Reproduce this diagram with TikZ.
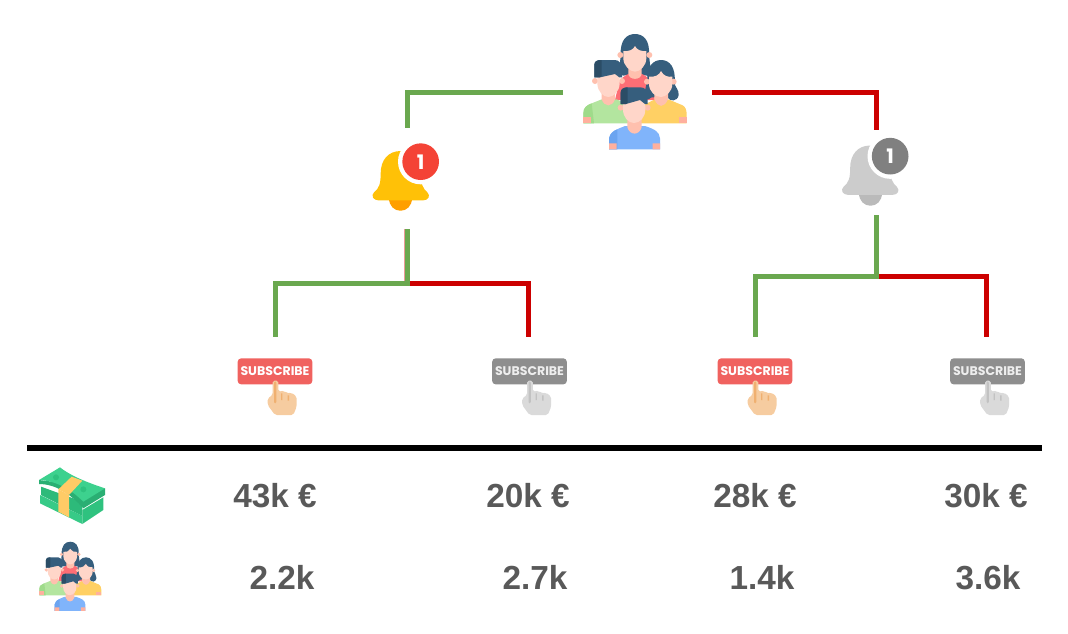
\documentclass[tikz,border=0pt]{standalone}
\usepackage{fontspec}
\setmainfont{Liberation Sans}
\newfontfamily\badgefont{Poppins}[UprightFont=*-Bold]
\definecolor{gline}{HTML}{6AA84F}
\definecolor{rline}{HTML}{CC0000}
\definecolor{valtext}{HTML}{595959}
\definecolor{hairA}{HTML}{365E7D}
\definecolor{hairB}{HTML}{2B4D66}
\definecolor{skinA}{HTML}{FFD6C9}
\definecolor{skinB}{HTML}{FFC0AE}
\definecolor{shirtP}{HTML}{FD6E75}
\definecolor{shirtG}{HTML}{B3E59F}
\definecolor{shirtGd}{HTML}{9FDB8A}
\definecolor{shirtY}{HTML}{FFD064}
\definecolor{shirtB}{HTML}{80B4FB}
\definecolor{shirtBd}{HTML}{6BA4F0}
\definecolor{cuff}{HTML}{FFB09E}
\definecolor{mA}{HTML}{2FC27F}
\definecolor{mB}{HTML}{3DD18E}
\definecolor{mC}{HTML}{2AAF73}
\definecolor{band}{HTML}{FFCB66}
\definecolor{bellbody}{HTML}{FFC107}
\definecolor{bellclap}{HTML}{FF9F00}
\definecolor{badgered}{HTML}{F44336}
\definecolor{bellgrey}{HTML}{CCCCCC}
\definecolor{bellgreyd}{HTML}{BABABA}
\definecolor{badgegrey}{HTML}{808080}
\definecolor{btnred}{HTML}{F0625F}
\definecolor{btngrey}{HTML}{8E8E8E}
\definecolor{btntext}{HTML}{EEEEEE}
\definecolor{handskin}{HTML}{F6CCA0}
\definecolor{handshade}{HTML}{F0B070}
\definecolor{handgrey}{HTML}{DADADA}
\definecolor{handgreyd}{HTML}{C2C2C2}
\tikzset{
  link/.style={line width=3.75pt,line join=miter},
  glink/.style={link,draw=gline},
  rlink/.style={link,draw=rline},
  slot/.style={inner sep=0pt,outer sep=0pt,draw=none},
  amount/.style={font=\fontsize{25}{30}\selectfont\bfseries,text=valtext,inner sep=0pt,anchor=base},
  icon/.style={line join=round}
}
\newcommand{\drawpeople}[3]{% origin x, origin y, unit in pt
\begin{scope}[shift={(#1,#2)},x=#3,y=-#3,icon]
 % back woman
 \fill[hairA] (182,105) .. controls (180,60) and (200,42) .. (225,42) .. controls (250,42) and (270,60) .. (267,105) -- (272,150) .. controls (274,165) and (262,170) .. (250,165) -- (200,165) .. controls (188,170) and (174,165) .. (178,150) -- cycle;
 \fill[shirtP] (165,240) -- (178,185) .. controls (190,165) and (210,158) .. (225,158) .. controls (240,158) and (262,165) .. (272,185) -- (285,240) -- cycle;
 \fill[skinB] (205,130) -- (245,130) -- (245,160) .. controls (245,182) and (205,182) .. (205,160) -- cycle;
 \fill[skinB] (181,105) circle (9) (268,105) circle (9);
 \fill[skinA] (190,93) .. controls (205,95) and (220,90) .. (225,78) .. controls (230,90) and (245,95) .. (259,93) -- (259,115) .. controls (259,137) and (240,155) .. (225,155) .. controls (210,155) and (190,137) .. (190,115) -- cycle;
 % right woman
 \fill[hairA] (262,180) .. controls (258,140) and (280,120) .. (303,120) .. controls (328,120) and (348,140) .. (344,190) .. controls (344,200) and (358,210) .. (356,225) .. controls (352,246) and (330,245) .. (322,232) -- (275,232) .. controls (262,245) and (250,235) .. (252,225) -- cycle;
 \fill[shirtY] (240,310) -- (240,260) -- (285,238) -- (325,238) -- (368,256) .. controls (376,260) and (380,270) .. (380,282) -- (380,310) -- cycle;
 \fill[skinB] (283,215) -- (324,215) -- (324,238) .. controls (312,264) and (295,264) .. (283,238) -- cycle;
 \fill[skinB] (341,185) circle (9) (261,185) circle (9);
 \fill[cuff] (356,292) rectangle (380,310);
 \fill[skinA] (267,170) .. controls (285,172) and (298,165) .. (303,153) .. controls (310,168) and (325,172) .. (337,170) -- (337,192) .. controls (337,214) and (318,231) .. (303,231) .. controls (285,231) and (267,214) .. (267,192) -- cycle;
 % left man
 \fill[shirtG] (70,310) -- (70,280) .. controls (70,262) and (80,256) .. (95,250) -- (125,238) -- (170,238) -- (205,255) -- (205,310) -- cycle;
 \fill[shirtGd] (70,310) -- (70,280) .. controls (70,262) and (80,256) .. (95,250) -- (102,310) -- cycle;
 \fill[skinB] (125,210) -- (165,210) -- (165,238) .. controls (157,262) and (133,262) .. (125,238) -- cycle;
 \fill[cuff] (70,290) rectangle (93,310);
 \fill[skinB] (105,183) circle (9) (186,183) circle (9);
 \fill[skinA] (112,160) -- (179,160) -- (179,190) .. controls (179,214) and (160,231) .. (145,231) .. controls (130,231) and (112,214) .. (112,190) -- cycle;
 \fill[hairA] (103,172) -- (103,135) .. controls (103,125) and (110,120) .. (120,120) -- (165,120) .. controls (178,120) and (186,132) .. (186,150) -- (186,172) -- (178,172) -- (165,162) -- (120,172) -- cycle;
 \fill[hairB] (103,172) -- (103,135) .. controls (103,125) and (110,120) .. (125,120) -- (125,168) -- (120,172) -- cycle;
 % front child
 \fill[shirtB] (147,388) -- (147,355) .. controls (150,335) and (170,328) .. (195,318) -- (255,318) .. controls (285,328) and (298,335) .. (300,355) -- (300,388) -- cycle;
 \fill[shirtBd] (147,388) -- (147,355) .. controls (150,340) and (160,332) .. (172,328) -- (172,388) -- cycle;
 \fill[skinB] (202,290) -- (245,290) -- (245,322) .. controls (237,347) and (210,347) .. (202,322) -- cycle;
 \fill[cuff] (147,370) rectangle (170,388) (278,370) rectangle (300,388);
 \fill[skinB] (182,263) circle (9) (263,263) circle (9);
 \fill[skinA] (189,240) -- (256,240) -- (256,268) .. controls (256,292) and (240,309) .. (222,309) .. controls (205,309) and (189,292) .. (189,268) -- cycle;
 \fill[hairA] (182,252) -- (182,218) .. controls (182,208) and (190,202) .. (198,202) -- (242,202) .. controls (255,202) and (263,212) .. (263,230) -- (263,252) -- (255,252) -- (240,240) -- (198,252) -- cycle;
 \fill[hairB] (182,252) -- (182,218) .. controls (182,208) and (190,202) .. (203,202) -- (203,248) -- (198,252) -- cycle;
\end{scope}}
\newcommand{\drawbell}[6]{% x, y, body, clapper, badge, digit
\begin{scope}[shift={(#1,#2)},x=.25pt,y=-.25pt,icon]
 \fill[#4] (87,190) .. controls (87,240) and (157,240) .. (157,190) -- cycle;
 \fill[#3] (122,48) .. controls (85,48) and (62,75) .. (62,115) .. controls (62,145) and (58,160) .. (42,172) .. controls (32,182) and (40,196) .. (55,196) -- (190,196) .. controls (206,196) and (212,182) .. (202,172) .. controls (188,160) and (182,145) .. (182,115) .. controls (182,75) and (158,48) .. (122,48) -- cycle;
 \fill[white] (182,80) circle (68);
 \fill[#5] (182,80) circle (55);
 \node[inner sep=0pt,text=#6,font=\badgefont\fontsize{15}{15}\selectfont] at (182,81) {1};
\end{scope}}
\newcommand{\drawsub}[6]{% x, y, button, text, hand, finger shade
\begin{scope}[shift={(#1,#2)},x=.25pt,y=-.25pt,icon]
 \fill[#3,rounded corners=2.6pt] (38,25) rectangle (262,103);
 \node[inner sep=0pt,text=#4,font=\badgefont\fontsize{9.4}{10}\selectfont] at (150,63) {SUBSCRIBE};
 \fill[#5,rounded corners=1.4pt] (143,92) -- (160,92) -- (160,125) -- (178,122) -- (185,130) -- (200,128) -- (215,140) -- (215,170) -- (205,195) -- (150,195) -- (128,165) -- (128,145) -- (143,135) -- cycle;
 \fill[#6,rounded corners=1pt] (147,94) -- (154,94) -- (154,160) -- (147,160) -- cycle;
 \fill[#6] (168,130) -- (172,130) -- (172,150) -- (168,150) -- cycle (188,136) -- (192,136) -- (192,152) -- (188,152) -- cycle;
\end{scope}}
\newcommand{\drawmoney}[2]{%
\begin{scope}[shift={(#1,#2)},x=.25pt,y=-.25pt,icon]
 \fill[mA] (172,150) -- (235,112) -- (235,150) -- (172,192) -- cycle;
 \fill[mB!55!mA] (45,105) -- (172,168) -- (172,192) -- (45,130) -- cycle;
 \fill[mA!60!mC] (48,80) -- (48,105) -- (172,168) -- (172,125) -- cycle;
 \fill[mC] (42,60) -- (42,72) .. controls (90,72) and (135,100) .. (175,145) -- (240,105) -- (240,85) -- cycle;
 \fill[mB] (42,60) -- (105,22) .. controls (130,42) and (170,62) .. (240,85) -- (175,125) .. controls (140,90) and (95,62) .. (42,60) -- cycle;
 \fill[mA] (93,52) circle (9) (175,88) circle (9);
 \fill[band] (100,88) -- (132,105) -- (172,62) -- (140,50) -- cycle;
 \fill[band] (100,88) -- (132,105) -- (132,172) -- (100,155) -- cycle;
\end{scope}}
\begin{document}
\begin{tikzpicture}[x=.75pt,y=-.75pt]
\useasboundingbox (0,0) rectangle (1068,633);
\node[slot,minimum width=111.75pt,minimum height=60pt] (crowd) at (637.5,92) {};
\node[slot,minimum width=60pt,minimum height=75.75pt] (bellon) at (407,178.5) {};
\node[slot,minimum width=60pt,minimum height=63.75pt] (belloff) at (876,172.5) {};
\node[slot,minimum width=60pt,minimum height=60pt] (subA) at (275,377) {};
\node[slot,minimum width=60pt,minimum height=60pt] (subB) at (528,377) {};
\node[slot,minimum width=60pt,minimum height=60pt] (subC) at (755,377) {};
\node[slot,minimum width=60pt,minimum height=60pt] (subD) at (986,377) {};
\coordinate (jL) at (407,283);
\coordinate (jR) at (876,276);
\coordinate (ruleL) at (27,448);
\coordinate (ruleR) at (1042,448);
% connectors
\draw[rlink] (crowd.east) -| (belloff.north);
\draw[glink] (crowd.west) -| (bellon.north);
\draw[rlink,line width=4.5pt,draw opacity=.4] (bellon.south) -- (jL);
\draw[rlink] (jL) -| (subB.north);
\draw[glink] (bellon.south) -- (jL) -| (subA.north);
\draw[rlink] (jR) -| (subD.north);
\draw[glink] (belloff.south) -- (jR) -| (subC.north);
\draw[line width=3.9pt] (ruleL) -- (ruleR);
% icons
\drawpeople{560}{20}{.25pt}
\drawbell{360}{135}{bellbody}{bellclap}{badgered}{white}
\drawbell{829.5}{129.5}{bellgrey}{bellgreyd}{badgegrey}{white}
\drawsub{225}{350}{btnred}{white}{handskin}{handshade}
\drawsub{479.5}{350}{btngrey}{btntext}{handgrey}{handgreyd}
\drawsub{705}{350}{btnred}{white}{handskin}{handshade}
\drawsub{937.5}{350}{btngrey}{btntext}{handgrey}{handgreyd}
\drawmoney{25}{460}
\drawpeople{25.3}{533.3}{.15pt}
% values
\node[amount] (m1) at (275,507.5) {43k €};
\node[amount] (m2) at (528,507.5) {20k €};
\node[amount] (m3) at (755,507.5) {28k €};
\node[amount] (m4) at (986,507.5) {30k €};
\node[amount] (n1) at (282,589.5) {2.2k};
\node[amount] (n2) at (535,589.5) {2.7k};
\node[amount] (n3) at (762,589.5) {1.4k};
\node[amount] (n4) at (988,589.5) {3.6k};
\end{tikzpicture}
\end{document}
